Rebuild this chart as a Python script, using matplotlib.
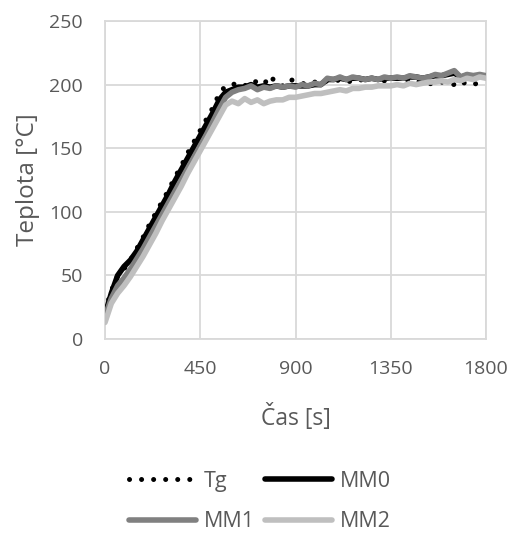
import matplotlib
matplotlib.use("Agg")
from matplotlib import pyplot as plt

# time axis [s]
cas = list(range(0, 1801, 30))

tg = [22, 38, 50, 55, 62, 71, 80, 90, 99, 108, 117, 127, 136, 146, 155, 164,
      173, 182, 193, 199, 200, 201, 199, 203, 202, 200, 207, 201, 199, 204, 203,
      201, 200, 202, 201, 203, 202, 204, 203, 202, 204, 203, 205, 204, 203, 204,
      205, 203, 204, 202, 203, 201, 200, 202, 201, 200, 203, 200, 201, 200, 201]
mm0 = [19, 36, 50, 57, 62, 69, 78, 87, 96, 105, 114, 124, 133, 142, 151, 160,
       169, 178, 188, 194, 196, 198, 198, 200, 198, 199, 198, 199, 198, 199, 199,
       199, 199, 200, 200, 204, 204, 205, 204, 205, 205, 204, 205, 204, 205, 205,
       205, 205, 206, 206, 205, 206, 207, 207, 208, 209, 206, 207, 207, 207, 206]
mm1 = [18, 32, 42, 48, 55, 63, 71, 80, 89, 98, 107, 116, 125, 134, 143, 152,
       161, 171, 181, 190, 194, 196, 197, 199, 196, 198, 197, 199, 198, 199, 198,
       200, 199, 201, 200, 205, 204, 206, 204, 206, 205, 204, 205, 204, 206, 205,
       206, 205, 207, 206, 205, 206, 208, 207, 209, 211, 206, 208, 207, 208, 207]
mm2 = [13, 28, 36, 42, 49, 57, 65, 74, 83, 93, 102, 111, 120, 130, 139, 148,
       157, 166, 175, 184, 187, 185, 189, 186, 188, 185, 187, 188, 188, 190, 190,
       191, 192, 193, 193, 194, 195, 196, 195, 197, 197, 198, 198, 199, 199, 199,
       200, 199, 201, 200, 201, 202, 202, 203, 202, 204, 203, 205, 204, 206, 205]

text_col = "#595959"
grid_col = "#d9d9d9"
plt.rcParams["font.family"] = ["Open Sans", "DejaVu Sans"]

fig = plt.figure(figsize=(5.11, 5.33), dpi=100)
ax = fig.add_axes([105 / 511, 1 - 339 / 533, 381 / 511, 318 / 533])

lw = 4.0
ax.plot(cas, mm0, color="black", lw=lw, solid_capstyle="round", label="MM0", zorder=3)
ax.plot(cas, mm1, color="#808080", lw=lw, solid_capstyle="round", label="MM1", zorder=4)
ax.plot(cas, mm2, color="#bfbfbf", lw=lw, solid_capstyle="round", label="MM2", zorder=5)
ax.plot(cas, tg, color="black", lw=3.6, linestyle=(0, (0.01, 2.4)),
        dash_capstyle="round", label="Tg", zorder=2)

ax.set_xlim(0, 1800)
ax.set_ylim(0, 250)
ax.set_xticks([0, 450, 900, 1350, 1800])
ax.set_yticks([0, 50, 100, 150, 200, 250])
ax.grid(True, color=grid_col, lw=1.3)
ax.set_axisbelow(True)
for s in ax.spines.values():
    s.set_color(grid_col)
    s.set_linewidth(1.3)
ax.tick_params(length=0, labelsize=14, colors=text_col)
ax.tick_params(axis="y", pad=16)
ax.tick_params(axis="x", pad=15)
ax.set_xlabel("Čas [s]", fontsize=16.5, color=text_col)
ax.set_ylabel("Teplota [°C]", fontsize=17.5, color=text_col)
ax.xaxis.set_label_coords(0.5, -0.203)
ax.yaxis.set_label_coords(-0.17, 0.5)

h, l = ax.get_legend_handles_labels()
order = [3, 1, 0, 2]  # Tg, MM1 | MM0, MM2 -> rows: Tg MM0 / MM1 MM2
fig.legend([h[i] for i in order], [l[i] for i in order], ncol=2,
           loc="center", bbox_to_anchor=(0.509, 0.059), frameon=False,
           fontsize=15.5, labelcolor=text_col, handlelength=3.1,
           columnspacing=0.5, handletextpad=0.35, labelspacing=0.9)

fig.savefig("out.png", dpi=100)
